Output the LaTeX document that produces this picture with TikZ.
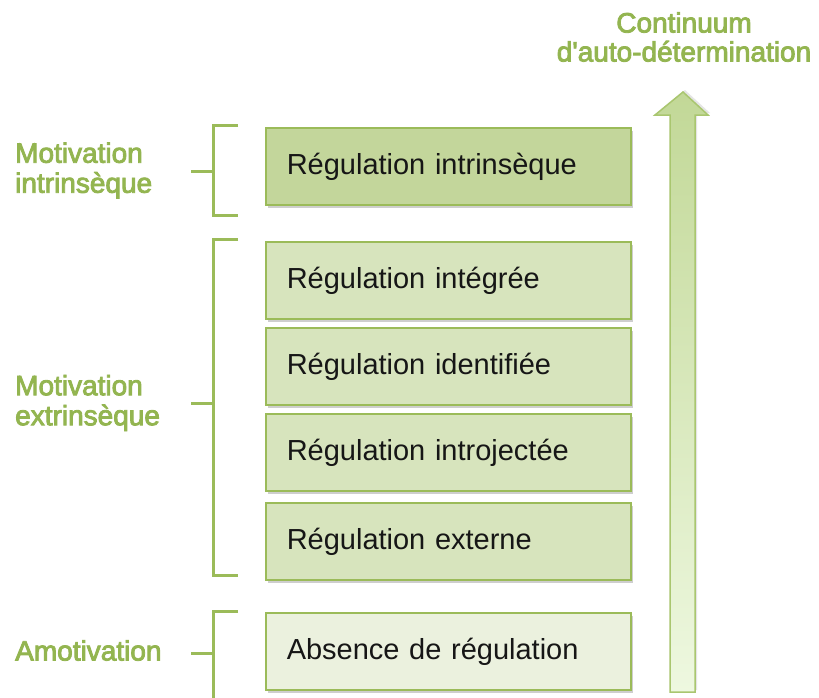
\documentclass[tikz,border=0pt]{standalone}
\usepackage{fontspec}
\setmainfont{Liberation Sans}
\newfontface\lblfont{Liberation Sans}[FakeBold=3]
\usetikzlibrary{shadows}
\definecolor{gborder}{HTML}{9BBB59}
\definecolor{gdark}{HTML}{C3D69B}
\definecolor{gmid}{HTML}{D7E4BD}
\definecolor{glight}{HTML}{EBF1DE}
\definecolor{lbl}{HTML}{93B550}
\definecolor{txt}{HTML}{161616}
\definecolor{arrborder}{HTML}{A9C66F}
\begin{document}
\begin{tikzpicture}[x=1pt,y=-1pt,
  regbox/.style={draw=gborder, line width=1.5pt, minimum width=365pt, minimum height=77pt,
    anchor=north west, inner xsep=21pt, inner ysep=0pt, text width=323pt, align=left,
    text height=21pt, text depth=4pt, text=txt,
    font=\fontsize{29}{34}\selectfont,
    drop shadow={shadow xshift=2pt, shadow yshift=-3pt, opacity=0.35, fill=black!55}},
  grouplbl/.style={anchor=west, inner sep=0pt, align=left, text=lbl,
    font=\lblfont\fontsize{28}{30}\selectfont},
  brk/.style={draw=gborder, line width=3pt, line join=miter, line cap=butt}
]
\clip (0,0) rectangle (819,697);
\fill[white] (0,0) rectangle (819,697);

% continuum arrow
\coordinate (tip) at (683,92);
\coordinate (hl) at (655,115);
\coordinate (hr) at (708,115);
\coordinate (sl) at (670,115);
\coordinate (sr) at (695,115);
\coordinate (bl) at (670,692);
\coordinate (br) at (695,692);
\path[fill=black!40, opacity=0.25] ([xshift=2pt,yshift=2pt]tip) -- ([xshift=2pt,yshift=2pt]hr) -- ([xshift=2pt,yshift=2pt]sr) -- ([xshift=2pt,yshift=2pt]br) -- ([xshift=2pt,yshift=2pt]bl) -- ([xshift=2pt,yshift=2pt]sl) -- ([xshift=2pt,yshift=2pt]hl) -- cycle;
\shade[top color={rgb,255:red,194;green,216;blue,151}, middle color={rgb,255:red,221;green,240;blue,192}, bottom color={rgb,255:red,238;green,248;blue,224}]
  (tip) -- (hr) -- (sr) -- (br) -- (bl) -- (sl) -- (hl) -- cycle;
\draw[arrborder, line width=1.5pt, line join=miter] (tip) -- (hr) -- (sr) -- (br) -- (bl) -- (sl) -- (hl) -- cycle;

\node[anchor=north, inner sep=0pt, align=center, text=lbl, font=\lblfont\fontsize{28}{29}\selectfont] (title) at (684,12) {Continuum\\d'auto-détermination};

% boxes
\node[regbox, fill=gdark] (b1) at (265,127) {Régulation intrinsèque};
\node[regbox, fill=gmid] (b2) at (265,241) {Régulation intégrée};
\node[regbox, fill=gmid] (b3) at (265,327) {Régulation identifiée};
\node[regbox, fill=gmid] (b4) at (265,413) {Régulation introjectée};
\node[regbox, fill=gmid] (b5) at (265,502) {Régulation externe};
\node[regbox, fill=glight] (b6) at (265,612) {Absence de régulation};

% group labels
\node[grouplbl] (l1) at (15,170.5) {Motivation\\intrinsèque};
\node[grouplbl] (l2) at (15,403) {Motivation\\extrinsèque};
\node[grouplbl] (l3) at (15,650.5) {Amotivation};

% brackets
\draw[brk] (238,125) -- (213,125) -- (213,215) -- (238,215);
\draw[brk] (191,171) -- (213,171);
\draw[brk] (238,239) -- (213,239) -- (213,575) -- (238,575);
\draw[brk] (191,403) -- (213,403);
\draw[brk] (238,611) -- (213,611) -- (213,705);
\draw[brk] (191,653) -- (213,653);
\end{tikzpicture}
\end{document}
